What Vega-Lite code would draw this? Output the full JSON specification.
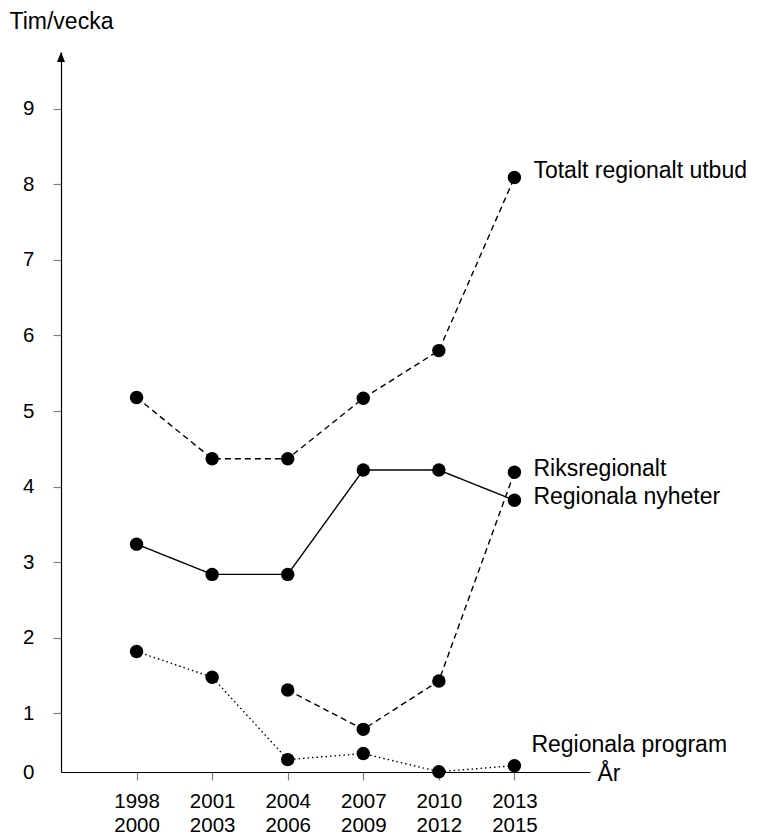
{
  "$schema": "https://vega.github.io/schema/vega-lite/v6.json",
  "width": 529,
  "height": 720,
  "autosize": {"type": "none"},
  "padding": {"left": 61, "top": 52, "right": 167, "bottom": 62},
  "background": "white",
  "config": {
    "view": {"stroke": null},
    "font": "Liberation Sans",
    "axis": {"grid": false}
  },
  "datasets": {
    "series": [
      {"serie": "Totalt regionalt utbud", "period": 0, "tim": 5.18},
      {"serie": "Totalt regionalt utbud", "period": 1, "tim": 4.37},
      {"serie": "Totalt regionalt utbud", "period": 2, "tim": 4.37},
      {"serie": "Totalt regionalt utbud", "period": 3, "tim": 5.17},
      {"serie": "Totalt regionalt utbud", "period": 4, "tim": 5.80},
      {"serie": "Totalt regionalt utbud", "period": 5, "tim": 8.09},
      {"serie": "Regionala nyheter", "period": 0, "tim": 3.24},
      {"serie": "Regionala nyheter", "period": 1, "tim": 2.84},
      {"serie": "Regionala nyheter", "period": 2, "tim": 2.84},
      {"serie": "Regionala nyheter", "period": 3, "tim": 4.22},
      {"serie": "Regionala nyheter", "period": 4, "tim": 4.22},
      {"serie": "Regionala nyheter", "period": 5, "tim": 3.82},
      {"serie": "Riksregionalt", "period": 2, "tim": 1.31},
      {"serie": "Riksregionalt", "period": 3, "tim": 0.79},
      {"serie": "Riksregionalt", "period": 4, "tim": 1.43},
      {"serie": "Riksregionalt", "period": 5, "tim": 4.19},
      {"serie": "Regionala program", "period": 0, "tim": 1.82},
      {"serie": "Regionala program", "period": 1, "tim": 1.48},
      {"serie": "Regionala program", "period": 2, "tim": 0.39},
      {"serie": "Regionala program", "period": 3, "tim": 0.47},
      {"serie": "Regionala program", "period": 4, "tim": 0.23},
      {"serie": "Regionala program", "period": 5, "tim": 0.31}
    ],
    "arrow": [{"period": -1, "tim": 9.75}]
  },
  "encoding": {
    "x": {
      "field": "period",
      "type": "quantitative",
      "scale": {"domain": [-1, 6], "nice": false, "zero": false},
      "axis": {
        "values": [0, 1, 2, 3, 4, 5],
        "labelExpr": "[toString(1998 + 3 * datum.value), toString(2000 + 3 * datum.value)]",
        "labelFontSize": 20.5,
        "labelColor": "black",
        "labelBaseline": "top",
        "labelPadding": 11,
        "labelLineHeight": 24,
        "labelFlush": false,
        "labelOverlap": false,
        "tickSize": 8,
        "tickColor": "#808080",
        "tickWidth": 1.2,
        "domainColor": "black",
        "domainWidth": 1.2,
        "title": "År",
        "titleFontSize": 23,
        "titleFontWeight": "normal",
        "titleColor": "black",
        "titleAnchor": "start",
        "titleAlign": "left",
        "titleBaseline": "alphabetic",
        "titleX": 536,
        "titleY": 8
      }
    },
    "y": {
      "field": "tim",
      "type": "quantitative",
      "scale": {"domain": [0.226, 9.75], "nice": false, "zero": false},
      "axis": {
        "values": [0.226, 1, 2, 3, 4, 5, 6, 7, 8, 9],
        "labelExpr": "datum.value < 0.5 ? '0' : datum.label",
        "labelFontSize": 20.5,
        "labelColor": "black",
        "labelPadding": 19,
        "labelFlush": false,
        "labelOverlap": false,
        "tickSize": 8,
        "tickColor": {"condition": {"test": "datum.value < 0.5", "value": "transparent"}, "value": "#808080"},
        "tickWidth": 1.2,
        "domainColor": "black",
        "domainWidth": 1.2,
        "title": "Tim/vecka",
        "titleFontSize": 23,
        "titleFontWeight": "normal",
        "titleColor": "black",
        "titleAngle": 0,
        "titleAlign": "left",
        "titleBaseline": "alphabetic",
        "titleX": -52,
        "titleY": -24
      }
    }
  },
  "layer": [
    {
      "data": {"name": "series"},
      "mark": {"type": "line", "color": "black", "strokeWidth": 1.4},
      "encoding": {
        "detail": {"field": "serie"},
        "strokeDash": {
          "field": "serie",
          "type": "nominal",
          "scale": {
            "domain": ["Totalt regionalt utbud", "Riksregionalt", "Regionala nyheter", "Regionala program"],
            "range": [[6, 4], [6, 4], [1, 0], [1.5, 3]]
          },
          "legend": null
        }
      }
    },
    {
      "data": {"name": "series"},
      "mark": {"type": "point", "shape": "circle", "filled": true, "color": "black", "size": 180, "opacity": 1}
    },
    {
      "data": {"name": "series"},
      "transform": [{"filter": "datum.period == 5 && datum.serie == 'Totalt regionalt utbud'"}],
      "mark": {"type": "text", "align": "left", "baseline": "alphabetic", "dx": 19, "dy": 1, "fontSize": 23, "color": "black"},
      "encoding": {"text": {"field": "serie"}}
    },
    {
      "data": {"name": "series"},
      "transform": [{"filter": "datum.period == 5 && (datum.serie == 'Riksregionalt' || datum.serie == 'Regionala nyheter')"}],
      "mark": {"type": "text", "align": "left", "baseline": "alphabetic", "dx": 19, "dy": 4, "fontSize": 23, "color": "black"},
      "encoding": {"text": {"field": "serie"}}
    },
    {
      "data": {"name": "series"},
      "transform": [{"filter": "datum.period == 5 && datum.serie == 'Regionala program'"}],
      "mark": {"type": "text", "align": "left", "baseline": "alphabetic", "dx": 17, "dy": -14, "fontSize": 23, "color": "black"},
      "encoding": {"text": {"field": "serie"}}
    },
    {
      "data": {"name": "arrow"},
      "mark": {"type": "point", "shape": "M0,0L-0.4,1L0.4,1Z", "filled": true, "color": "black", "size": 400, "opacity": 1, "clip": false}
    }
  ]
}
